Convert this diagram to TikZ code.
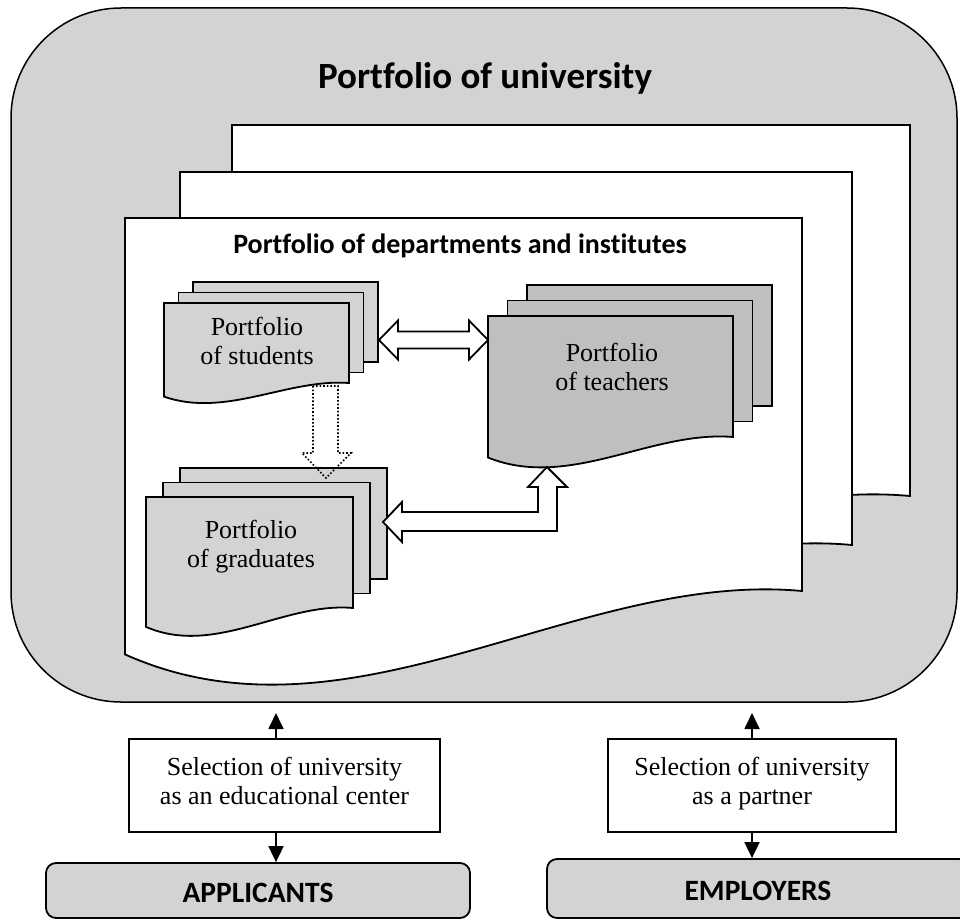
\documentclass[tikz,border=0pt]{standalone}
\usepackage{fontspec}
\setmainfont{Liberation Serif}
\newfontfamily\calibri[Ligatures={NoCommon}]{Carlito}
\usetikzlibrary{arrows.meta}
\definecolor{lgray}{HTML}{D3D3D3}
\definecolor{dgray}{HTML}{BFBFBF}
\tikzset{
  page/.style={draw, line width=1.8pt, line join=miter},
  hollow/.style={draw, fill=white, line width=1.8pt, line join=miter},
  selbox/.style={draw, fill=white, line width=1.8pt, align=center, inner sep=0pt,
    text height=45pt, text depth=8pt, font=\fontsize{26}{29}\selectfont},
  grpbox/.style={draw, fill=lgray, line width=1.8pt, rounded corners=10pt, inner sep=0pt,
    text height=24pt, text depth=0pt, font=\calibri\bfseries\fontsize{29.5}{31}\selectfont},
  doctext/.style={align=center, font=\fontsize{26}{29}\selectfont},
  link/.style={line width=1.8pt, -{Triangle[length=16pt,width=15pt]}}
}
% one page with a wavy bottom: fill, left, top, right, bottom at right
\newcommand{\wavepage}[5]{%
  \pgfmathsetmacro\pgh{#5-#3}
  \draw[page, fill=#1] (#2,#3) -- (#4,#3) -- (#4,#5)
    .. controls ({#4-(#4-#2)/3},{#5-0.056*\pgh}) and ({#2+(#4-#2)/3},{#5+0.44*\pgh}) .. (#2,{#5+0.17*\pgh}) -- cycle;
}
% stack of three pages: fill, left, top, right, bottom, dx, dy
\newcommand{\docstack}[7]{%
  \draw[page, fill=#1] ({#2+2*#6},{#3-2*#7}) rectangle ({#4+2*#6},{#5-2*#7});
  \draw[page, fill=#1] ({#2+#6},{#3-#7}) rectangle ({#4+#6},{#5-#7});
  \wavepage{#1}{#2}{#3}{#4}{#5}
}
\begin{document}
\begin{tikzpicture}[x=1pt, y=-1pt]
\useasboundingbox (0,0) rectangle (960,920);
% university
\draw[fill=lgray, line width=1.5pt, rounded corners=110pt] (11,8) rectangle (957,702);
\node[font=\calibri\bfseries\fontsize{37}{40}\selectfont, anchor=base] (univ) at (485,89) {Portfolio of university};
% departments and institutes
\wavepage{white}{232}{125}{910}{496}
\wavepage{white}{180}{172}{852}{545}
\wavepage{white}{125}{218}{802}{591}
\node[font=\calibri\bfseries\fontsize{28}{30}\selectfont, anchor=base] (dept) at (460,253) {Portfolio of departments and institutes};
% documents
\docstack{lgray}{164}{303}{349}{383}{14.5}{10.5}
\docstack{dgray}{488}{316}{733}{437}{19.5}{15.5}
\docstack{lgray}{146}{497}{353}{608}{17}{14.5}
\node[doctext, anchor=base] (stu) at (257,364) {Portfolio\\of students};
\node[doctext, anchor=base] (tea) at (612,390) {Portfolio\\of teachers};
\node[doctext, anchor=base] (gra) at (251,567) {Portfolio\\of graduates};
% hollow arrows
\coordinate (stuR) at (379,340);
\coordinate (teaL) at (488,340);
\coordinate (teaB) at (547,467);
\coordinate (graR) at (383,522);
\coordinate (graT) at (326,478);
\draw[hollow] (stuR) -- ++(19,-19.5) -- ++(0,11) -- ([xshift=-19pt,yshift=8.5pt]teaL) -- ++(0,-11)
  -- (teaL) -- ++(-19,19.5) -- ++(0,-11) -- ([xshift=19pt,yshift=-8.5pt]stuR) -- ++(0,11) -- cycle;
\draw[hollow] (graR) -- ++(19,-20) -- ++(0,10) -- (538,512) -- (538,487) -- (528,487) -- (teaB)
  -- (567,487) -- (557,487) -- (557,531) -- (402,531) -- (402,542) -- cycle;
\draw[line width=1.6pt, dash pattern=on 1.6pt off 2pt, line join=miter] (313,386) -- (313,453) -- (302,453)
  -- (graT) -- (351,453) -- (338,453) -- (338,386) -- cycle;
% selection
\node[selbox, minimum width=311pt, minimum height=93pt] (selA) at (284.5,785.5) {Selection of university\\as an educational center};
\node[selbox, minimum width=288pt, minimum height=93pt] (selE) at (752,785.5) {Selection of university\\as a partner};
\node[grpbox, minimum width=424pt, minimum height=55pt] (app) at (258,890.5) {APPLICANTS};
\node[grpbox, minimum width=422pt, minimum height=59pt] (emp) at (758,888.5) {EMPLOYERS};
\coordinate (univB) at (0,713);
\draw[link] ([xshift=-8.5pt]selA.north) -- ([xshift=-8.5pt]selA.north |- univB);
\draw[link] ([xshift=-8.5pt]selA.south) -- ([xshift=-8.5pt]selA.south |- app.north);
\draw[link] (selE.north) -- (selE.north |- univB);
\draw[link] (selE.south) -- (selE.south |- emp.north);
\end{tikzpicture}
\end{document}
